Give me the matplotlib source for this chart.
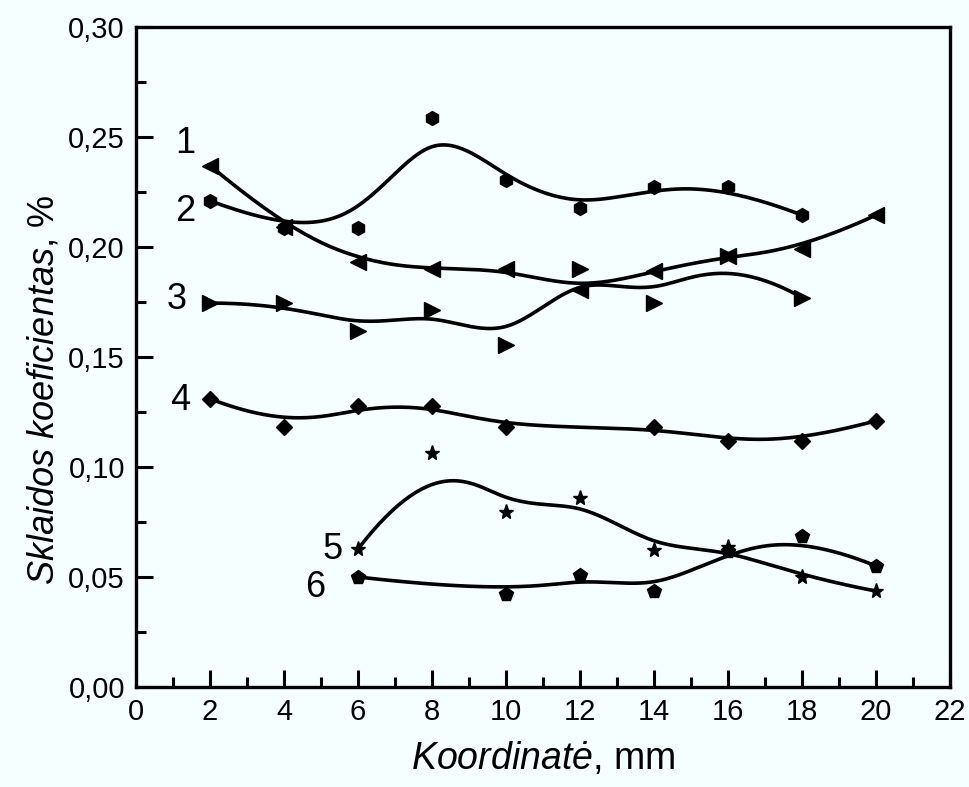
import numpy as np
import matplotlib
matplotlib.use("Agg")
import matplotlib.pyplot as plt
from matplotlib.ticker import MultipleLocator

plt.rcParams['font.family'] = ['Liberation Sans', 'DejaVu Sans']
plt.rcParams['mathtext.fontset'] = 'custom'
plt.rcParams['mathtext.rm'] = 'Liberation Sans'
plt.rcParams['mathtext.it'] = 'Liberation Sans:italic'

BG = '#F5FFFF'

# --- Duomenys (nuskaityti nuo grafiko) ---
x1 = [2, 4, 6, 8, 10, 12, 14, 16, 18, 20]
y1 = [0.237, 0.209, 0.193, 0.190, 0.190, 0.1805, 0.189, 0.196, 0.199, 0.2145]

x2 = [2, 4, 6, 8, 10, 12, 14, 16, 18]
y2 = [0.221, 0.2086, 0.2086, 0.2586, 0.2305, 0.2177, 0.2273, 0.2273, 0.2145]

x3 = [2, 4, 6, 8, 10, 12, 14, 16, 18]
y3 = [0.1745, 0.1745, 0.162, 0.1714, 0.1555, 0.190, 0.1745, 0.196, 0.177]

x4 = [2, 4, 6, 8, 10, 14, 16, 18, 20]
y4 = [0.131, 0.118, 0.1277, 0.1277, 0.118, 0.118, 0.112, 0.112, 0.121]

x5 = [6, 8, 10, 12, 14, 16, 18, 20]
y5 = [0.0627, 0.1064, 0.0795, 0.0859, 0.0623, 0.0636, 0.050, 0.0436]

x6 = [6, 10, 12, 14, 16, 18, 20]
y6 = [0.050, 0.0423, 0.0509, 0.0436, 0.062, 0.0686, 0.055]

serijos = [
    (x1, y1, '<', 11),
    (x2, y2, 'h', 10),
    (x3, y3, '>', 11),
    (x4, y4, 'D', 8),
    (x5, y5, '*', 11),
    (x6, y6, 'p', 10),
]

# kreiviu numeriai ir ju vietos
zymes = ['1', '2', '3', '4', '5', '6']
zymiu_x = [1.32, 1.32, 1.1, 1.2, 5.3, 4.85]
zymiu_y = [0.247, 0.216, 0.176, 0.130, 0.0627, 0.045]

x_ticks = list(range(0, 23, 2))
x_tick_labels = [str(v) for v in x_ticks]
y_ticks = [0.0, 0.05, 0.10, 0.15, 0.20, 0.25, 0.30]
y_tick_labels = ['0,00', '0,05', '0,10', '0,15', '0,20', '0,25', '0,30']


def bspline(xs, ys, n=300, k=3):
    # kubinis B-splainas (kaip Origin), taskai - valdymo taskai
    P = np.column_stack([xs, ys]).astype(float)
    m = len(P)
    knots = np.array([0] * (k + 1) + list(range(1, m - k)) + [m - k] * (k + 1), dtype=float)
    ts = np.linspace(0, m - k, n)
    out = []
    for t in ts:
        s = np.searchsorted(knots, t, side='right') - 1
        s = min(s, m - 1)
        d = [P[j + s - k].copy() for j in range(k + 1)]
        for r in range(1, k + 1):
            for j in range(k, r - 1, -1):
                den = knots[j + 1 + s - r] - knots[j + s - k]
                a = 0.0 if den == 0 else (t - knots[j + s - k]) / den
                d[j] = (1 - a) * d[j - 1] + a * d[j]
        out.append(d[k])
    out = np.array(out)
    return out[:, 0], out[:, 1]


fig = plt.figure(figsize=(9.7, 7.87), dpi=100, facecolor=BG)
ax = fig.add_axes([0.1402, 0.1271, 0.8392, 0.8386])
ax.set_facecolor(BG)

for xs, ys, mk, ms in serijos:
    bx, by = bspline(xs, ys)
    ax.plot(bx, by, color='black', linewidth=2.6, zorder=2)
    ax.plot(xs, ys, linestyle='none', marker=mk, markersize=ms,
            color='black', zorder=3)

for z, zx, zy in zip(zymes, zymiu_x, zymiu_y):
    ax.text(zx, zy, z, fontsize=26, ha='center', va='center')

ax.set_xlim(0, 22)
ax.set_ylim(0, 0.30)
ax.set_xticks(x_ticks)
ax.set_xticklabels(x_tick_labels)
ax.set_yticks(y_ticks)
ax.set_yticklabels(y_tick_labels)
ax.xaxis.set_minor_locator(MultipleLocator(1))
ax.yaxis.set_minor_locator(MultipleLocator(0.025))

ax.tick_params(which='both', direction='in', width=2.2, labelsize=21,
               top=False, right=False)
ax.tick_params(which='major', length=12, pad=8)
ax.tick_params(which='minor', length=7)

for sp in ax.spines.values():
    sp.set_linewidth(2.4)

ax.set_xlabel(r'$\mathit{Koordinatė}$, mm', fontsize=27, labelpad=10)
ax.set_ylabel(r'$\mathit{Sklaidos\ koeficientas}$, %', fontsize=26)
ax.yaxis.set_label_coords(-0.092, 0.45)

fig.savefig('out.png', dpi=100, facecolor=BG)
